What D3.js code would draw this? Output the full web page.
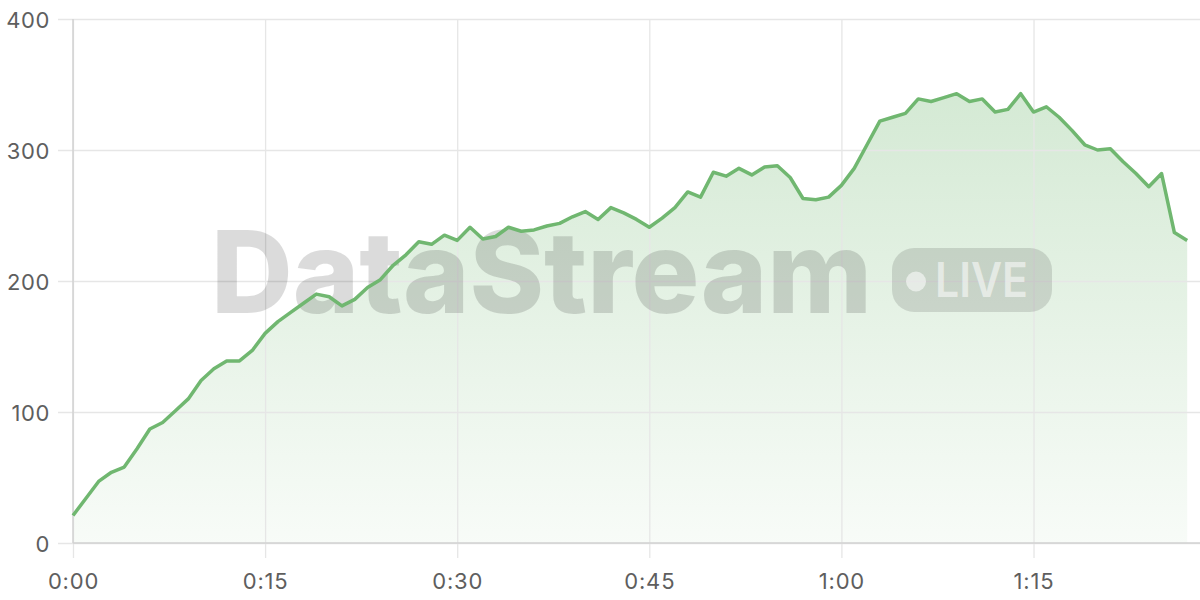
<!DOCTYPE html>
<html>
<head>
<meta charset="utf-8">
<script src="https://cdn.jsdelivr.net/npm/d3@7"></script>
<style>
  html, body { margin: 0; padding: 0; background: #fff; }
  svg { display: block; font-family: "Inter", "Noto Sans", sans-serif; }
</style>
</head>
<body>
<svg id="chart" width="1200" height="600"></svg>
<script>
// ---- data (minutes since start, viewer count) ----
const minutes = d3.range(0, 88);
const values = [
  21, 34, 47, 54, 58, 72, 87, 92, 101, 110,
  124, 133, 139, 139, 147, 160, 169, 176, 183, 190,
  188, 181, 186, 195, 201, 212, 220, 230, 228, 235,
  231, 241, 232, 234, 241, 238, 239, 242, 244, 249,
  253, 247, 256, 252, 247, 241, 248, 256, 268, 264,
  283, 280, 286, 281, 287, 288, 279, 263, 262, 264,
  273, 286, 304, 322, 325, 328, 339, 337, 340, 343,
  337, 339, 329, 331, 343, 329, 333, 325, 315, 304,
  300, 301, 291, 282, 272, 282, 237, 231
];
const xTickValues = [0, 15, 30, 45, 60, 75];
const xTickLabels = ["0:00", "0:15", "0:30", "0:45", "1:00", "1:15"];
const yTickValues = [0, 100, 200, 300, 400];
const watermarkText = "DataStream";
const badgeText = "LIVE";

const data = minutes.map((m, i) => ({ m, v: values[i] }));

const FONT = "Inter, 'Noto Sans', sans-serif";
const svg = d3.select("#chart");
const x = d3.scaleLinear().domain([0, 88]).range([73, 1200]);
const y = d3.scaleLinear().domain([0, 400]).range([543, 19]);

const lineColor = "#70b770";

// gradient
const defs = svg.append("defs");
const grad = defs.append("linearGradient")
  .attr("id", "areaGrad")
  .attr("gradientUnits", "userSpaceOnUse")
  .attr("x1", 0).attr("x2", 0).attr("y1", y(345)).attr("y2", y(0));
grad.append("stop").attr("offset", "0%").attr("stop-color", lineColor).attr("stop-opacity", 0.3);
grad.append("stop").attr("offset", "100%").attr("stop-color", lineColor).attr("stop-opacity", 0.05);

// area
const area = d3.area().x(d => x(d.m)).y0(y(0)).y1(d => y(d.v));
svg.append("path").datum(data).attr("d", area).attr("fill", "url(#areaGrad)");

// grid - horizontal
const yAxis = d3.axisLeft(y).tickValues(yTickValues).tickSize(-(1200 - 58)).tickPadding(8)
  .tickFormat(d3.format("d"));
const gy = svg.append("g").attr("transform", "translate(58,0)").call(yAxis)
  .attr("font-family", FONT).attr("font-size", 22);
gy.select(".domain").remove();
gy.selectAll(".tick line").attr("stroke", "#e6e6e6").attr("stroke-width", 1.3);
gy.selectAll(".tick text").attr("fill", "#5e5e5e").attr("x", -8).attr("dy", "0.4em")
  .attr("letter-spacing", 0.6);

// grid - vertical
const xAxis = d3.axisBottom(x).tickValues(xTickValues).tickSize(-(558 - 19)).tickPadding(0)
  .tickFormat((d, i) => xTickLabels[i]);
const gx = svg.append("g").attr("transform", "translate(0,558)").call(xAxis)
  .attr("font-family", FONT).attr("font-size", 22);
gx.select(".domain").remove();
gx.selectAll(".tick line").attr("stroke", "#e6e6e6").attr("stroke-width", 1.3);
gx.selectAll(".tick text").attr("fill", "#5e5e5e").attr("y", 30.5).attr("dy", 0)
  .attr("letter-spacing", 0.8);

// axis lines
svg.append("line").attr("x1", x(0)).attr("x2", x(0)).attr("y1", y(400)).attr("y2", y(0))
  .attr("stroke", "#d2d2d2").attr("stroke-width", 1.5);
svg.append("line").attr("x1", x(0)).attr("x2", 1200).attr("y1", y(0)).attr("y2", y(0))
  .attr("stroke", "#d2d2d2").attr("stroke-width", 1.5);

// watermark
const wm = svg.append("g").attr("pointer-events", "none");
wm.append("text").attr("x", 211).attr("y", 313)
  .attr("font-family", FONT).attr("font-weight", 800).attr("font-size", 114)
  .attr("textLength", 661).attr("lengthAdjust", "spacingAndGlyphs")
  .attr("fill", "rgba(0,0,0,0.14)").text(watermarkText);
wm.append("rect").attr("x", 892).attr("y", 248).attr("width", 160).attr("height", 64).attr("rx", 22)
  .attr("fill", "rgba(0,0,0,0.12)");
wm.append("circle").attr("cx", 916).attr("cy", 281.5).attr("r", 10).attr("fill", "rgba(255,255,255,0.55)");
wm.append("text").attr("x", 935).attr("y", 297)
  .attr("font-family", FONT).attr("font-weight", 600).attr("font-size", 48)
  .attr("textLength", 93).attr("lengthAdjust", "spacingAndGlyphs")
  .attr("fill", "rgba(255,255,255,0.55)").text(badgeText);

// line
const line = d3.line().x(d => x(d.m)).y(d => y(d.v));
svg.append("path").datum(data).attr("d", line).attr("fill", "none")
  .attr("stroke", lineColor).attr("stroke-width", 3.5).attr("stroke-linejoin", "round");
</script>
</body>
</html>
